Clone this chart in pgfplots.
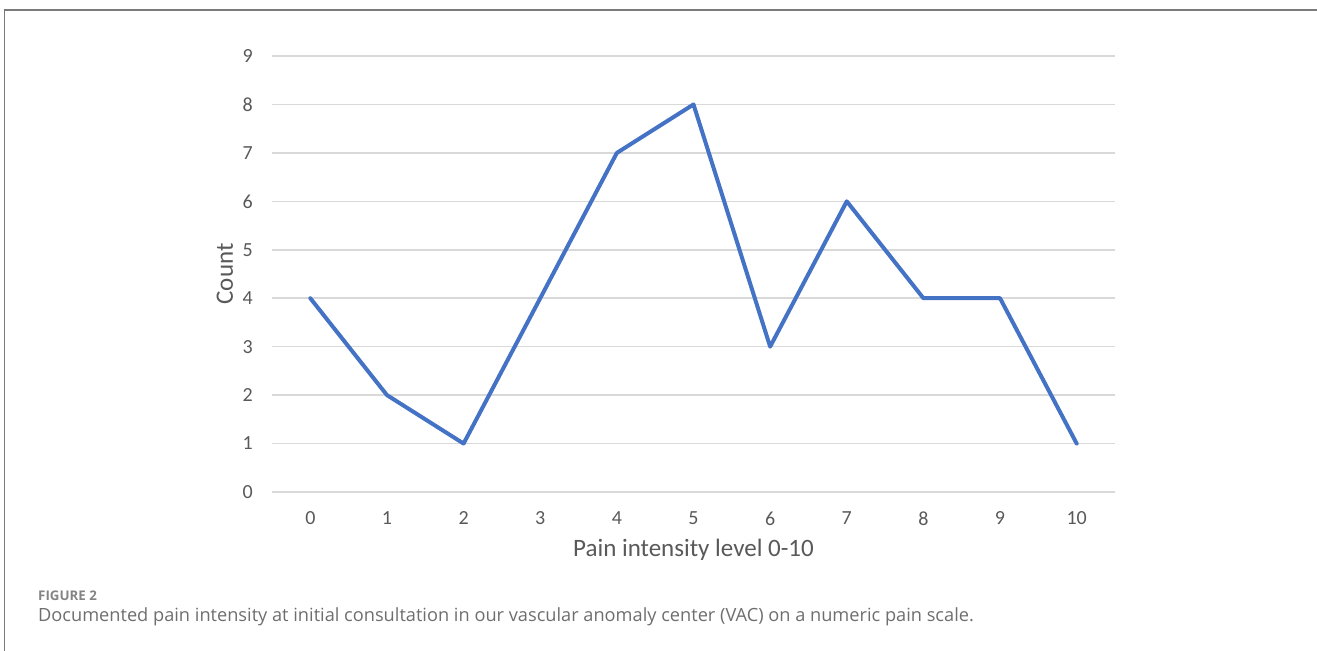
\documentclass[border=0pt]{standalone}
\usepackage{pgfplots}
\pgfplotsset{compat=1.18}
\usepackage{fontspec}
\setmainfont{Carlito}
\newfontfamily\capfont{Open Sans}

\definecolor{lineblue}{HTML}{4472C4}
\definecolor{gridgray}{HTML}{D9D9D9}
\definecolor{labelgray}{HTML}{595959}
\definecolor{capgray}{HTML}{6E6E6E}
\definecolor{framegray}{HTML}{7A7A7A}

\begin{document}
\begin{tikzpicture}
\useasboundingbox (0,0) rectangle (1317bp,651bp);
% frame round the figure
\draw[framegray, line width=1.5bp] (4.5bp,-5bp) -- (4.5bp,641bp) -- (1330bp,641bp);

\begin{axis}[
    at={(272bp,159bp)},
    anchor=south west,
    scale only axis,
    width=843bp,
    height=436bp,
    xmin=-0.5, xmax=10.5,
    ymin=0, ymax=9,
    xtick={0,1,...,10},
    ytick={0,1,...,9},
    axis line style={draw=none},
    major tick length=0pt,
    ymajorgrids,
    grid style={gridgray, line width=1.5bp},
    ticklabel style={labelgray, inner sep=0pt, font=\fontsize{20bp}{22bp}\selectfont},
    /pgf/number format/assume math mode=true,
    yticklabel style={anchor=east, xshift=-19bp},
    xticklabel style={anchor=center, yshift=-26.5bp},
    xlabel={Pain intensity level 0-10},
    ylabel={Count},
    label style={labelgray, font=\fontsize{25bp}{27bp}\selectfont},
    xlabel style={at={(axis description cs:0.5,-0.133)}, anchor=center},
    ylabel style={at={(axis description cs:-0.056,0.5)}, anchor=center},
    clip=false]

\addplot[lineblue, line width=4bp, line join=round, line cap=round] coordinates {
(0, 4)
(1, 2)
(2, 1)
(3, 4)
(4, 7)
(5, 8)
(6, 3)
(7, 6)
(8, 4)
(9, 4)
(10, 1)
};

\end{axis}

\node[anchor=base west, inner sep=0pt, text=capgray!85,
      font=\capfont\bfseries\fontsize{13.3bp}{15bp}\selectfont] at (38bp,50bp) {FIGURE 2};
\node[anchor=base west, inner sep=0pt, text=capgray,
      font=\capfont\fontsize{18.2bp}{21bp}\selectfont] at (38bp,30bp)
  {Documented pain intensity at initial consultation in our vascular anomaly center (VAC) on a numeric pain scale.};
\end{tikzpicture}
\end{document}
